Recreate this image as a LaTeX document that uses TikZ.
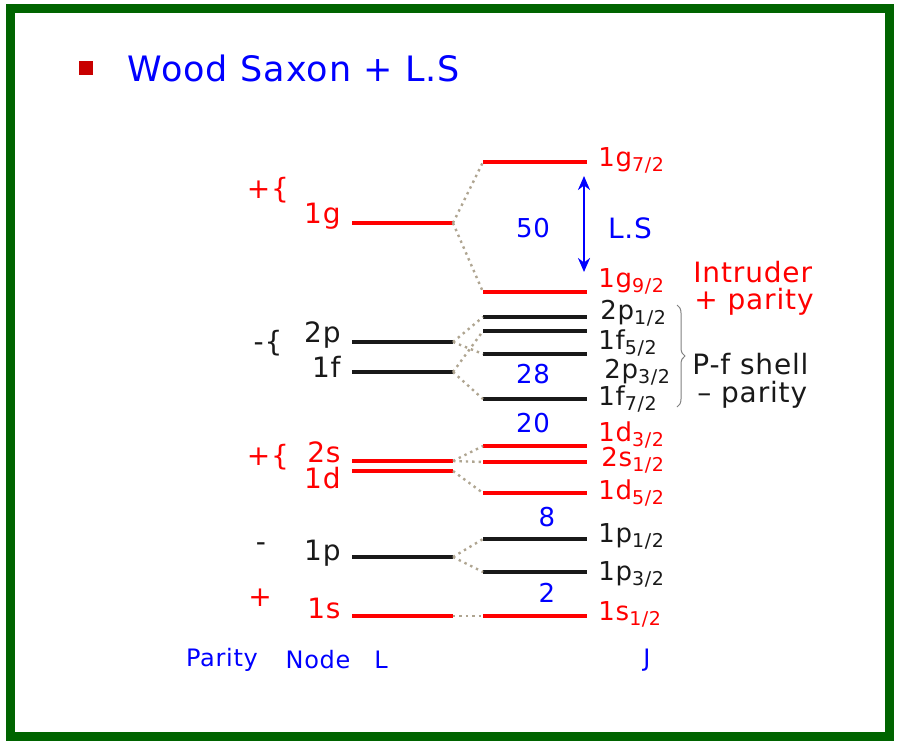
\documentclass[tikz,border=0pt]{standalone}
\usepackage{fontspec}
\setmainfont{DejaVu Sans}[LetterSpace=3]
\usetikzlibrary{arrows.meta,decorations.pathreplacing}

\definecolor{framegreen}{RGB}{0,100,0}
\definecolor{lsred}{RGB}{255,0,0}
\definecolor{boxred}{RGB}{200,0,0}
\definecolor{lsblue}{RGB}{0,0,255}
\definecolor{lsblack}{RGB}{25,25,25}
\definecolor{dotgray}{RGB}{175,165,145}

\newcommand{\jsub}[1]{\raisebox{-0.4ex}{\fontsize{9.5}{10}\selectfont #1}}

\begin{document}
\begin{tikzpicture}[x=0.5pt,y=-0.5pt,
    lvl/.style={line width=2pt},
    spl/.style={dotgray,dotted,line width=1.2pt},
    nam/.style={font=\fontsize{14}{16}\selectfont,inner sep=0pt,anchor=base east},
    jnam/.style={font=\fontsize{13}{15}\selectfont,inner sep=0pt,anchor=base west},
    side/.style={font=\fontsize{14}{16}\selectfont,inner sep=0pt,anchor=west},
    magic/.style={lsblue,font=\fontsize{13}{15}\selectfont,inner sep=0pt},
    axis/.style={lsblue,font=\fontsize{12}{14}\selectfont,inner sep=0pt}]

  \useasboundingbox (0,0) rectangle (899,740);
  \draw[framegreen,line width=4.5pt] (10,8) rectangle (889,736);

  % title
  \fill[boxred] (79,61) rectangle (93,75);
  \node[lsblue,font=\fontsize{17.5}{20}\selectfont,anchor=west,inner sep=0pt] (title) at (127,68) {Wood Saxon + L.S};

  % L levels
  \begin{scope}[lvl]
    \coordinate (1g-a) at (352,223); \coordinate (1g-b) at (453,223);
    \coordinate (2p-a) at (352,342); \coordinate (2p-b) at (453,342);
    \coordinate (1f-a) at (352,372); \coordinate (1f-b) at (453,372);
    \coordinate (2s-a) at (352,461); \coordinate (2s-b) at (453,461);
    \coordinate (1d-a) at (352,471); \coordinate (1d-b) at (453,471);
    \coordinate (1p-a) at (352,557); \coordinate (1p-b) at (453,557);
    \coordinate (1s-a) at (352,616); \coordinate (1s-b) at (453,616);
    \draw[lsred]   (1g-a) -- (1g-b);
    \draw[lsblack] (2p-a) -- (2p-b);
    \draw[lsblack] (1f-a) -- (1f-b);
    \draw[lsred]   (2s-a) -- (2s-b);
    \draw[lsred]   (1d-a) -- (1d-b);
    \draw[lsblack] (1p-a) -- (1p-b);
    \draw[lsred]   (1s-a) -- (1s-b);
  \end{scope}

  % J levels
  \begin{scope}[lvl]
    \coordinate (1g72-a) at (483,162); \coordinate (1g72-b) at (587,162);
    \coordinate (1g92-a) at (483,292); \coordinate (1g92-b) at (587,292);
    \coordinate (2p12-a) at (483,317); \coordinate (2p12-b) at (587,317);
    \coordinate (1f52-a) at (483,331); \coordinate (1f52-b) at (587,331);
    \coordinate (2p32-a) at (483,354); \coordinate (2p32-b) at (587,354);
    \coordinate (1f72-a) at (483,399); \coordinate (1f72-b) at (587,399);
    \coordinate (1d32-a) at (483,446); \coordinate (1d32-b) at (587,446);
    \coordinate (2s12-a) at (483,462); \coordinate (2s12-b) at (587,462);
    \coordinate (1d52-a) at (483,493); \coordinate (1d52-b) at (587,493);
    \coordinate (1p12-a) at (483,539); \coordinate (1p12-b) at (587,539);
    \coordinate (1p32-a) at (483,572); \coordinate (1p32-b) at (587,572);
    \coordinate (1s12-a) at (483,616); \coordinate (1s12-b) at (587,616);
    \draw[lsred]   (1g72-a) -- (1g72-b);
    \draw[lsred]   (1g92-a) -- (1g92-b);
    \draw[lsblack] (2p12-a) -- (2p12-b);
    \draw[lsblack] (1f52-a) -- (1f52-b);
    \draw[lsblack] (2p32-a) -- (2p32-b);
    \draw[lsblack] (1f72-a) -- (1f72-b);
    \draw[lsred]   (1d32-a) -- (1d32-b);
    \draw[lsred]   (2s12-a) -- (2s12-b);
    \draw[lsred]   (1d52-a) -- (1d52-b);
    \draw[lsblack] (1p12-a) -- (1p12-b);
    \draw[lsblack] (1p32-a) -- (1p32-b);
    \draw[lsred]   (1s12-a) -- (1s12-b);
  \end{scope}

  % splitting
  \begin{scope}[spl]
    \draw (1g-b) -- (1g72-a);
    \draw (1g-b) -- (1g92-a);
    \draw (2p-b) -- (2p12-a);
    \draw (2p-b) -- (2p32-a);
    \draw (1f-b) -- (1f52-a);
    \draw (1f-b) -- (1f72-a);
    \draw (2s-b) -- (1d32-a);
    \draw (2s-b) -- (2s12-a);
    \draw (1d-b) -- (1d52-a);
    \draw (1p-b) -- (1p12-a);
    \draw (1p-b) -- (1p32-a);
    \draw (1s-b) -- (1s12-a);
  \end{scope}

  % L names
  \node[nam,lsred]   (n1g) at (341,223) {1g};
  \node[nam,lsblack] (n2p) at (341,342) {2p};
  \node[nam,lsblack] (n1f) at (341,377) {1f};
  \node[nam,lsred]   (n2s) at (341,462) {2s};
  \node[nam,lsred]   (n1d) at (341,488) {1d};
  \node[nam,lsblack] (n1p) at (341,560) {1p};
  \node[nam,lsred]   (n1s) at (341,618) {1s};

  % J names
  \node[jnam,lsred]   (n1g72) at (598,166) {1g\jsub{7/2}};
  \node[jnam,lsred]   (n1g92) at (598,287) {1g\jsub{9/2}};
  \node[jnam,lsblack] (n2p12) at (600,319) {2p\jsub{1/2}};
  \node[jnam,lsblack] (n1f52) at (598,349) {1f\jsub{5/2}};
  \node[jnam,lsblack] (n2p32) at (604,378) {2p\jsub{3/2}};
  \node[jnam,lsblack] (n1f72) at (598,405) {1f\jsub{7/2}};
  \node[jnam,lsred]   (n1d32) at (598,441) {1d\jsub{3/2}};
  \node[jnam,lsred]   (n2s12) at (601,466) {2s\jsub{1/2}};
  \node[jnam,lsred]   (n1d52) at (598,499) {1d\jsub{5/2}};
  \node[jnam,lsblack] (n1p12) at (598,542) {1p\jsub{1/2}};
  \node[jnam,lsblack] (n1p32) at (598,580) {1p\jsub{3/2}};
  \node[jnam,lsred]   (n1s12) at (598,620) {1s\jsub{1/2}};

  % parity
  \begin{scope}[every node/.style={font=\fontsize{14}{16}\selectfont,inner sep=0pt}]
    \node[lsred]   (p1g) at (268,190) {+\{};
    \node[lsblack] (ppf) at (268,343) {-\{};
    \node[lsred]   (psd) at (268,457) {+\{};
    \node[lsblack] (p1p) at (261,547) {-};
    \node[lsred]   (p1s) at (260,598) {+};
  \end{scope}

  % magic numbers
  \node[magic] (m50) at (533,228) {50};
  \node[magic] (m28) at (533,374) {28};
  \node[magic] (m20) at (533,423) {20};
  \node[magic] (m8)  at (547,517) {8};
  \node[magic] (m2)  at (547,593) {2};

  % L.S gap
  \coordinate (ls-top) at (584,176);
  \coordinate (ls-bot) at (584,272);
  \draw[lsblue,line width=1.3pt,{Stealth[length=7pt,width=6pt]}-{Stealth[length=7pt,width=6pt]}] (ls-top) -- (ls-bot);
  \node[lsblue,font=\fontsize{14}{16}\selectfont,inner sep=0pt] (ls) at (630,228) {L.S};

  % intruder
  \node[side,lsred] (intr) at (693,272) {Intruder};
  \node[side,lsred] (ipar) at (694,302) {+ parity};

  % pf shell
  \coordinate (br-top) at (677,305);
  \coordinate (br-bot) at (677,407);
  \draw[gray,line width=0.5pt,decorate,decoration={brace,amplitude=4pt}] (br-top) -- (br-bot);
  \node[side,lsblack] (pfs)  at (692,364) {P-f shell};
  \node[side,lsblack] (npar) at (697,395) {– parity};

  % axis names
  \node[axis] (par)  at (222,660) {Parity};
  \node[axis] (node) at (318,660) {Node};
  \node[axis] (l)    at (381,660) {L};
  \node[axis] (j)    at (647,660) {J};

\end{tikzpicture}
\end{document}
